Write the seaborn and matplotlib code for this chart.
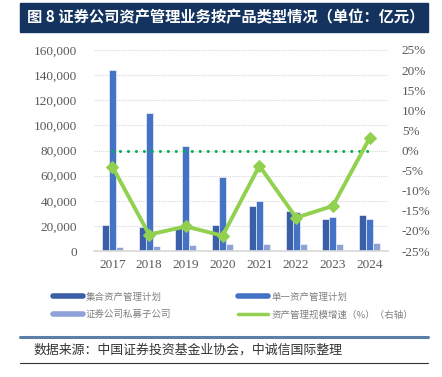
import matplotlib
matplotlib.use("Agg")
import matplotlib.pyplot as plt
import numpy as np
import pandas as pd
import seaborn as sns
from matplotlib.lines import Line2D
from matplotlib.patches import Rectangle

years = ["2017", "2018", "2019", "2020", "2021", "2022", "2023", "2024"]
collective = [20700, 19100, 19400, 20400, 36100, 31600, 25700, 28600]
single = [144000, 109800, 83500, 58900, 40050, 30800, 27100, 25500]
private_sub = [3200, 4200, 4800, 5300, 5300, 5600, 5800, 6400]
growth = [-4.0, -20.9, -18.9, -21.2, -3.8, -16.7, -13.8, 3.1]

series_names = ["集合资产管理计划", "单一资产管理计划", "证券公司私募子公司"]
line_name = "资产管理规模增速（%）（右轴）"
bar_colors = ["#3A5FA8", "#4472C4", "#8FA2D8"]
line_color = "#92D050"

df = pd.DataFrame({
    "year": years * 3,
    "value": collective + single + private_sub,
    "kind": [series_names[0]] * 8 + [series_names[1]] * 8 + [series_names[2]] * 8,
})

sns.set_theme(style="white")
plt.rcParams["font.family"] = ["Noto Sans CJK SC", "DejaVu Sans"]
serif = ["Liberation Serif", "DejaVu Serif"]
tick_grey = "#595959"

fig = plt.figure(figsize=(4.42, 3.77), dpi=100)
ax = fig.add_axes([94 / 442, 1 - 251 / 377, 294 / 442, 201 / 377])

sns.barplot(data=df, x="year", y="value", hue="kind", palette=bar_colors,
            width=0.57, saturation=1, edgecolor="white", linewidth=0.4,
            legend=False, ax=ax)
ax.set_xlim(-0.5, 7.5)
ax.set_ylim(0, 160000)
ax.set_yticks(np.arange(0, 160001, 20000))
ax.set_yticklabels([f"{v:,}" for v in range(0, 160001, 20000)])
ax.yaxis.grid(True, color="#D9D9D9", linestyle=(0, (1, 1)), linewidth=0.8)
ax.set_axisbelow(True)
ax.set_xlabel("")
ax.set_ylabel("")
for s in ["top", "right", "left"]:
    ax.spines[s].set_visible(False)
ax.spines["bottom"].set_color("#D9D9D9")
ax.tick_params(axis="both", length=0, colors=tick_grey, labelsize=9.5)
ax.tick_params(axis="y", pad=12)
ax.tick_params(axis="x", pad=6)
for t in ax.get_xticklabels() + ax.get_yticklabels():
    t.set_family(serif)

ax2 = ax.twinx()
ax2.set_position(ax.get_position())
# zero reference line, first to last category
ax2.plot([0, len(years) - 1], [0, 0], color="#00B050", linestyle=(0, (0.01, 2.6)),
         linewidth=2.2, dash_capstyle="round")
sns.lineplot(x=np.arange(len(years)), y=growth, color=line_color, linewidth=2.8,
             marker="D", markersize=6, markeredgecolor=line_color, ax=ax2)
ax2.set_ylim(-25, 25)
ax2.set_yticks(np.arange(-25, 26, 5))
ax2.set_yticklabels([f"{v}%" for v in range(-25, 26, 5)])
ax2.tick_params(axis="y", length=0, colors=tick_grey, labelsize=9.5, pad=10)
for t in ax2.get_yticklabels():
    t.set_family(serif)
for s in ax2.spines.values():
    s.set_visible(False)
ax2.set_xlim(-0.5, 7.5)

# legend
handles = [Line2D([], [], color=c, linewidth=4) for c in bar_colors]
handles.append(Line2D([], [], color=line_color, linewidth=2.5))
labels = series_names + [line_name]
order = [0, 2, 1, 3]
fig.legend([handles[i] for i in order], [labels[i] for i in order],
           ncol=2, loc="upper left", bbox_to_anchor=(44 / 442, 1 - 284 / 377),
           frameon=False, fontsize=6.8, handlelength=3.2, handletextpad=0.3,
           columnspacing=7.1, labelspacing=0.9, labelcolor="#808080")

# title bar
fig.patches.append(Rectangle((20 / 442, 1 - 32 / 377), 408 / 442, 29 / 377,
                             transform=fig.transFigure, color="#14345F", zorder=0))
fig.text(27 / 442, 1 - 17.5 / 377, "图 8 证券公司资产管理业务按产品类型情况（单位：亿元）",
         color="white", fontsize=11, fontweight="bold", va="center", ha="left")

# source
fig.add_artist(Line2D([20 / 442, 428 / 442], [1 - 337 / 377, 1 - 337 / 377],
                      color="#5B7FA6", linewidth=2.2, transform=fig.transFigure))
fig.text(33 / 442, 1 - 350 / 377, "数据来源：中国证券投资基金业协会，中诚信国际整理",
         color="#333333", fontsize=9.3, style="italic", va="center", ha="left")
fig.add_artist(Line2D([20 / 442, 428 / 442], [1 - 363 / 377, 1 - 363 / 377],
                      color="#333333", linewidth=0.8, transform=fig.transFigure))

fig.savefig("out.png", dpi=100)
